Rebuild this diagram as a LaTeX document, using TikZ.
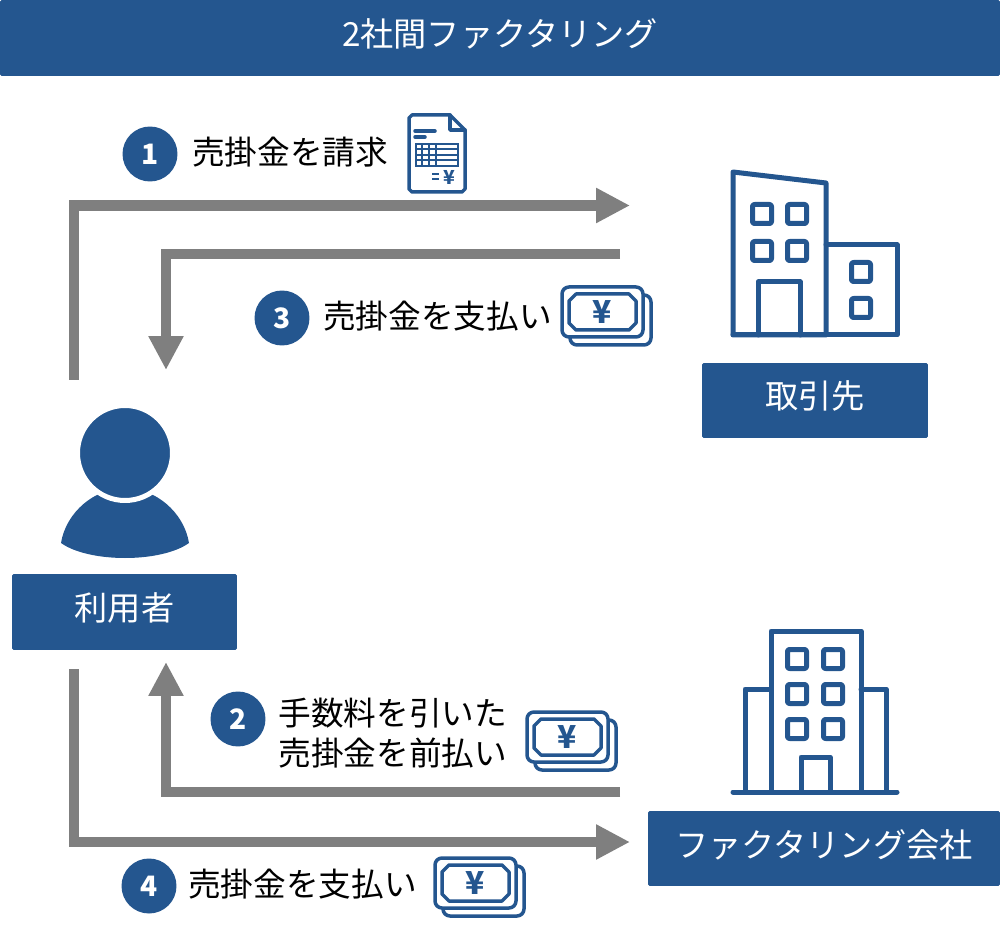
\documentclass[tikz,border=0pt]{standalone}
\usepackage{fontspec}
\setmainfont{Noto Sans CJK JP}
\usetikzlibrary{arrows.meta,positioning}
\definecolor{navy}{HTML}{24568F}
\definecolor{arrowgray}{HTML}{7F7F7F}

\begin{document}
\begin{tikzpicture}[
    x=0.02cm, y=-0.02cm,
    banner/.style={fill=navy, text=white, font=\fontsize{18.9}{22}\selectfont, align=center, inner sep=0pt, text height=0.54cm, text depth=0.2cm, rounded corners=0.03cm},
    label/.style={anchor=west, inner sep=0pt, align=left, text=black, yshift=0.04cm, font=\fontsize{18.6}{22.3}\selectfont},
    badge/.style={circle, fill=navy, text=white, minimum size=1.1cm, inner sep=0pt, font=\fontsize{16}{18}\bfseries\selectfont},
    line/.style={-{Triangle[length=0.68cm, width=0.66cm]}, arrowgray, line width=0.21cm},
    icon/.style={draw=navy, line width=0.1cm, line join=round, line cap=round},
    thin icon/.style={draw=navy, line width=0.07cm, line join=round, line cap=round},
    window/.style={icon, minimum size=0.38cm, inner sep=0pt, rounded corners=0.04cm},
    money/.pic={
        \draw[thin icon, rounded corners=0.14cm, fill=white] (8,8) rectangle (89,58);
        \draw[thin icon, rounded corners=0.14cm, fill=white] (0,0) rectangle (81,50);
        \draw[thin icon] (14,7) -- (67,7) -- (74,14) -- (74,36) -- (67,43) -- (14,43) -- (7,36) -- (7,14) -- cycle;
        \node[navy, inner sep=0pt, font=\fontsize{18}{20}\bfseries\selectfont] at (40,25) {¥};
    }
]
\useasboundingbox (0,0) rectangle (1000,935);

% header and boxes
\node[banner, minimum width=20cm, minimum height=1.52cm] (title) at (500,38) {2社間ファクタリング};
\node[banner, minimum width=4.52cm, minimum height=1.5cm] (client) at (815,400.5) {取引先};
\node[banner, minimum width=4.5cm, minimum height=1.52cm] (user) at (124.5,612) {利用者};
\node[banner, minimum width=7.04cm, minimum height=1.5cm] (factor) at (824,848.5) {ファクタリング会社};

% steps
\node[badge] (one) at (150,154) {1};
\node[label, right=0.28cm of one] (billing) {売掛金を請求};
\node[badge] (three) at (282,318) {3};
\node[label, right=0.26cm of three] (payment) {売掛金を支払い};
\node[badge] (two) at (238,719) {2};
\node[label] (advance) at (278,735) {手数料を引いた\\売掛金を前払い};
\node[badge] (four) at (149,886) {4};
\node[label, right=0.22cm of four] (repay) {売掛金を支払い};

% connector ends
\coordinate (a1) at (74,380);
\coordinate (a2) at (74,205.5);
\coordinate (a3) at (630,205.5);
\coordinate (b1) at (620,254);
\coordinate (b2) at (166,254);
\coordinate (b3) at (166,370);
\coordinate (c1) at (620,792);
\coordinate (c2) at (166,792);
\coordinate (c3) at (166,662);
\coordinate (d1) at (74,669);
\coordinate (d2) at (74,842);
\coordinate (d3) at (630,842);

\draw[line] (a1) -- (a2) -- (a3);
\draw[line] (b1) -- (b2) -- (b3);
\draw[line] (c1) -- (c2) -- (c3);
\draw[line] (d1) -- (d2) -- (d3);

% person
\fill[navy] (61,543) .. controls (66,512) and (95,488) .. (125,488) .. controls (155,488) and (184,512) .. (189,543) .. controls (175,553) and (150,558) .. (125,558) .. controls (100,558) and (75,553) .. (61,543) -- cycle;
\draw[navy, fill=navy, postaction={draw=white, line width=0.1cm}] (125,453) circle (0.95cm);

% invoice
\draw[thin icon] (412,115) -- (450,115) -- (465,130) -- (465,189) -- (462,192) -- (412,192) -- (409,189) -- (409,118) -- cycle;
\draw[thin icon] (450,115) -- (450,130) -- (465,130);
\draw[thin icon] (415,131) -- (435,131);
\draw[thin icon] (415,137) -- (425,137);
\draw[draw=navy, line width=0.04cm] (416,144) rectangle (458,166);
\foreach \ly in {149.5,155,160.5}
    \draw[draw=navy, line width=0.04cm] (416,\ly) -- (458,\ly);
\foreach \lx in {422,429,436}
    \draw[draw=navy, line width=0.04cm] (\lx,144) -- (\lx,166);
\draw[draw=navy, line width=0.04cm] (432,174.5) -- (439,174.5);
\draw[draw=navy, line width=0.04cm] (432,179) -- (439,179);
\node[navy, inner sep=0pt, font=\fontsize{11}{12}\bfseries\selectfont] (yen) at (449,177) {¥};

% banknotes
\pic at (562,287) {money};
\pic at (527,712) {money};
\pic at (435,858) {money};

% client building
\draw[icon] (733,172) -- (826,183) -- (826,335) -- (733,335) -- cycle;
\draw[icon] (826,245) -- (897,245) -- (897,335) -- (733,335);
\draw[icon] (758,335) -- (758,282) -- (800,282) -- (800,335);
\foreach \wx in {762,797}
    \foreach \wy in {214,251}
        \node[window] at (\wx,\wy) {};
\foreach \wy in {272,308}
    \node[window] at (861,\wy) {};

% factoring building
\draw[icon] (771,792) -- (771,631) -- (861,631) -- (861,792);
\draw[icon] (771,689) -- (745,689) -- (745,792);
\draw[icon] (861,689) -- (886,689) -- (886,792);
\draw[icon] (733,792) -- (897,792);
\draw[icon] (801,792) -- (801,757) -- (830,757) -- (830,792);
\foreach \wx in {797,833}
    \foreach \wy in {659,694,729}
        \node[window] at (\wx,\wy) {};
\end{tikzpicture}
\end{document}
